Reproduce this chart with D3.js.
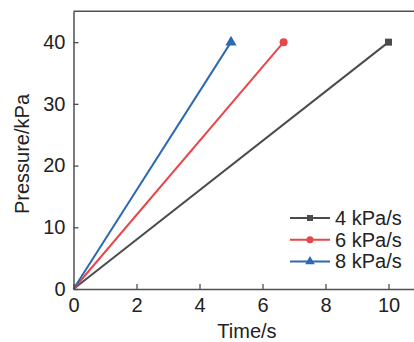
<!DOCTYPE html>
<html>
<head>
<meta charset="utf-8">
<script src="https://cdn.jsdelivr.net/npm/d3@7"></script>
<style>
  body { margin: 0; background: #fff; }
  svg { display: block; font-family: "Liberation Sans", Arial, sans-serif; }
</style>
</head>
<body>
<svg width="414" height="342"></svg>
<script>
// series: pressure ramps up to 40 kPa
const seriesNames = ["4 kPa/s", "6 kPa/s", "8 kPa/s"];
const seriesColors = ["#4b4b4b", "#e8474a", "#2c69b3"];
const seriesMarkers = ["square", "circle", "triangle"];
const timeValues = [[0, 10], [0, 6.67], [0, 5]];
const pressureValues = [[0, 40], [0, 40], [0, 40]];
const xTicks = [0, 2, 4, 6, 8, 10];
const yTicks = [0, 10, 20, 30, 40];

const svg = d3.select("svg");
const plotLeft = 73.5, plotTop = 11.3, plotBottom = 289;
const x = d3.scaleLinear().domain([0, 10.8]).range([plotLeft, plotLeft + 10.8 * 31.5]);
const y = d3.scaleLinear().domain([0, 45]).range([plotBottom, plotTop]);
const axisColor = "#505050";

function marker(sel, type, color, size) {
    if (type === "square") {
        sel.append("rect").attr("x", -size / 2).attr("y", -size / 2)
            .attr("width", size).attr("height", size).attr("fill", color);
    } else if (type === "circle") {
        sel.append("circle").attr("r", size / 2 + 0.5).attr("fill", color);
    } else {
        const s = d3.symbol().type(d3.symbolTriangle).size(size * size * 1.1);
        sel.append("path").attr("d", s).attr("fill", color);
    }
}

// lines
const lineGen = d3.line().x(d => x(d[0])).y(d => y(d[1]));
seriesNames.forEach((name, i) => {
    const pts = timeValues[i].map((t, j) => [t, pressureValues[i][j]]);
    svg.append("path")
        .attr("d", lineGen(pts))
        .attr("fill", "none")
        .attr("stroke", seriesColors[i])
        .attr("stroke-width", 2);
    const last = pts[pts.length - 1];
    const g = svg.append("g").attr("transform", `translate(${x(last[0])},${y(last[1])})`);
    marker(g, seriesMarkers[i], seriesColors[i], 7);
});

// axes
const xAxis = d3.axisBottom(x).tickValues(xTicks).tickSizeInner(-5).tickSizeOuter(0).tickPadding(9);
const yAxis = d3.axisLeft(y).tickValues(yTicks).tickSizeInner(-5).tickSizeOuter(0).tickPadding(8);

const gx = svg.append("g").attr("transform", `translate(0,${plotBottom})`).call(xAxis);
const gy = svg.append("g").attr("transform", `translate(${plotLeft},0)`).call(yAxis);
[gx, gy].forEach(g => {
    g.select(".domain").attr("stroke", axisColor).attr("stroke-width", 1.5);
    g.selectAll(".tick line").attr("stroke", axisColor).attr("stroke-width", 1.3);
    g.selectAll(".tick text").attr("fill", "#222").attr("font-size", 20)
        .attr("font-family", "Liberation Sans, Arial, sans-serif");
});
gx.selectAll(".tick text").attr("dy", "0.71em");

// top frame line
svg.append("line")
    .attr("x1", plotLeft).attr("x2", 414)
    .attr("y1", plotTop).attr("y2", plotTop)
    .attr("stroke", axisColor).attr("stroke-width", 1.5);

// axis titles
svg.append("text")
    .attr("x", 247).attr("y", 338)
    .attr("text-anchor", "middle")
    .attr("font-size", 20).attr("fill", "#222")
    .text("Time/s");
svg.append("text")
    .attr("transform", `translate(29,${154}) rotate(-90)`)
    .attr("text-anchor", "middle")
    .attr("font-size", 20).attr("fill", "#222")
    .text("Pressure/kPa");

// legend
const legend = svg.append("g");
seriesNames.forEach((name, i) => {
    const cy = 218 + i * 21.7;
    legend.append("line")
        .attr("x1", 290).attr("x2", 330)
        .attr("y1", cy).attr("y2", cy)
        .attr("stroke", seriesColors[i]).attr("stroke-width", 2);
    marker(legend.append("g").attr("transform", `translate(310,${cy})`), seriesMarkers[i], seriesColors[i], 6);
    legend.append("text")
        .attr("x", 335).attr("y", cy)
        .attr("dy", "0.35em")
        .attr("font-size", 20).attr("fill", "#222")
        .text(name);
});
</script>
</body>
</html>
